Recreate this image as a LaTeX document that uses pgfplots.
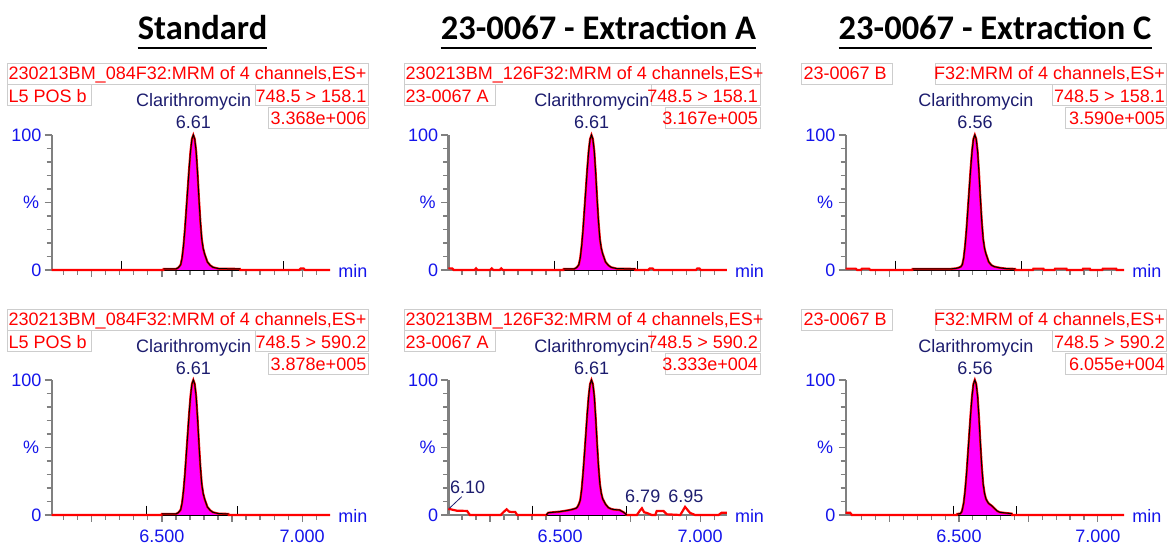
\documentclass[border=0pt]{standalone}
\usepackage{fontspec}
\setmainfont{Liberation Sans}
\newfontfamily\titlefont{Carlito}
\usepackage{pgfplots}
\usepackage{pgfplotstable}
\pgfplotsset{compat=1.18}

\definecolor{tb}{RGB}{20,20,235}
\definecolor{nv}{RGB}{28,28,110}
\definecolor{axgray}{RGB}{128,128,128}
\definecolor{boxgray}{RGB}{205,205,205}
\definecolor{pk}{RGB}{255,0,255}
\definecolor{rd}{RGB}{255,0,0}

\newcommand{\rdfont}{\fontsize{18pt}{20pt}\selectfont}
\newcommand{\tkfont}{\fontsize{18pt}{20pt}\selectfont}

% peak rows shared by the 6.61 panels
\pgfplotstableread{
x y
6.107 0
6.505 0
6.506 0.8
6.550 0.8
6.557 1.5
6.562 2.5
6.567 4
6.572 9
6.577 18
6.582 30
6.587 45
6.592 60
6.597 75
6.602 88
6.607 97
6.612 100
6.617 97
6.622 88
6.627 72
6.632 53
6.637 36
6.642 23
6.647 16
6.652 12
6.657 9
6.662 6
6.672 3.5
6.682 2
6.692 1.5
6.702 1
6.778 0.8
6.779 0
6.990 0
6.995 1.2
7.005 1.2
7.010 0
7.100 0
}\TL

\pgfplotstableread{
x y
6.101 1.2
6.115 1.2
6.120 0
6.195 0
6.200 1.2
6.205 0
6.250 0
6.256 1.2
6.262 0
6.285 0
6.290 1.2
6.296 0
6.512 0
6.513 0.8
6.550 0.8
6.557 1.5
6.562 2.5
6.567 4
6.572 9
6.577 18
6.582 30
6.587 45
6.592 60
6.597 75
6.602 88
6.607 97
6.612 100
6.617 97
6.622 88
6.627 72
6.632 53
6.637 36
6.642 23
6.647 16
6.652 12
6.657 9
6.662 6
6.672 3.5
6.682 2
6.692 1.5
6.702 1
6.767 0.8
6.768 0
6.815 0
6.820 1.2
6.830 1.2
6.835 0
6.985 0
6.990 1.2
6.997 1.2
7.002 0
7.095 0
}\TM

\pgfplotstableread{
x y
6.092 1
6.128 1
6.133 0
6.146 0
6.151 1
6.176 1
6.181 0
6.332 0
6.333 0.8
6.470 0.8
6.490 1.2
6.500 1.8
6.507 2.5
6.512 4
6.517 9
6.522 18
6.527 30
6.532 45
6.537 60
6.542 75
6.547 88
6.552 97
6.557 100
6.562 97
6.567 88
6.572 72
6.577 53
6.582 36
6.587 23
6.592 16
6.597 12
6.602 9
6.607 6
6.617 3.5
6.627 2.5
6.637 2
6.650 1.5
6.670 1
6.702 0.8
6.703 0
6.766 0
6.768 1
6.804 1
6.806 0
6.844 0
6.846 1
6.887 1
6.889 0
6.945 0
6.947 1
6.971 1
6.973 0
7.016 0
7.018 1
7.066 1
7.068 0
7.095 0
}\TR

\pgfplotstableread{
x y
6.107 0
6.499 0
6.500 0.8
6.550 0.8
6.557 1.5
6.562 2.5
6.567 4
6.572 9
6.577 18
6.582 30
6.587 45
6.592 60
6.597 75
6.602 88
6.607 97
6.612 100
6.617 97
6.622 88
6.627 72
6.632 53
6.637 36
6.642 23
6.647 16
6.652 12
6.657 9
6.662 6
6.672 3.5
6.682 2
6.692 1.5
6.702 1
6.737 0.8
6.738 0
7.100 0
}\BL

\pgfplotstableread{
x y
6.101 4.5
6.110 4.2
6.131 3.2
6.168 3.0
6.178 0
6.288 0
6.300 2.5
6.309 4.2
6.318 2.5
6.327 2.2
6.340 2.2
6.347 0
6.450 0
6.458 1.7
6.500 2.5
6.530 3.5
6.545 4.2
6.557 5
6.562 6
6.567 8
6.572 11
6.577 19
6.582 31
6.587 45
6.592 60
6.597 75
6.602 88
6.607 97
6.612 100
6.617 97
6.622 88
6.627 72
6.632 53
6.637 36
6.642 23
6.647 16
6.652 12
6.657 10
6.662 8
6.672 5.5
6.682 4.5
6.692 4
6.712 3.7
6.727 2
6.738 0
6.774 0
6.784 3
6.792 5
6.800 2
6.810 1.5
6.827 0
6.840 0
6.845 3
6.869 3
6.881 0.5
6.929 0
6.946 6
6.964 1.5
6.982 0
7.065 0
7.077 1.7
7.095 1.7
}\BM

\pgfplotstableread{
x y
6.092 1.7
6.108 1.7
6.114 0
6.493 0
6.494 0.8
6.505 1
6.510 2.5
6.512 4
6.517 9
6.522 18
6.527 30
6.532 45
6.537 60
6.542 75
6.547 88
6.552 97
6.557 100
6.562 97
6.567 88
6.572 72
6.577 53
6.582 36
6.587 23
6.592 16
6.597 12
6.602 10
6.607 8.5
6.617 7
6.627 5
6.637 3
6.647 2
6.667 1.5
6.690 1
6.691 0
7.095 0
}\BR

\pgfplotsset{
  chrom/.style={
    scale only axis, width=278.5pt, height=135pt, anchor=south west,
    ymin=0, ymax=100, clip=false,
    axis lines*=left,
    axis line style={draw=axgray, line width=2.4pt},
    ytick={0,50,100}, yticklabels={0,,100},
    minor ytick={10,20,30,40,60,70,80,90},
    xtick={6.25,6.5,6.75,7},
    minor xtick={6.15,6.2,6.3,6.35,6.4,6.45,6.55,6.6,6.65,6.7,6.8,6.85,6.9,6.95,7.05},
    tick align=outside,
    major tick length=7pt, minor tick length=5pt,
    tick style={draw=axgray, line width=1.2pt},
    tick label style={font=\tkfont, text=tb},
    yticklabel style={inner sep=1pt, xshift=-2pt},
    xticklabel style={inner sep=2pt, yshift=-6pt},
  },
  toprow/.style={xticklabels={}},
  botrow/.style={xticklabels={,6.500,,7.000}},
  % trace, then a dark outline on the integrated peak
  trace/.style={rd, line width=2.2pt},
  outline/.style={black, line width=1pt},
}

% panel decorations: min and % labels
\newcommand{\axtext}{%
  \node[anchor=base west, inner sep=0, text=tb, font=\tkfont] at (rel axis cs:1,0) [xshift=8pt, yshift=-7.7pt] {min};
  \node[anchor=east, inner sep=0, text=tb, font=\tkfont] at (rel axis cs:0,0.5) [xshift=-12.4pt] {\%};
}

\begin{document}
\begin{tikzpicture}
\path[use as bounding box] (0pt,0pt) rectangle (1167pt,545pt);

% titles
\foreach \cx/\tt in {202.5/Standard, 598.5/23-0067 - Extraction A, 995/23-0067 - Extraction C}{
  \node[anchor=base, inner sep=0, font=\titlefont\bfseries\fontsize{34.5pt}{36pt}\selectfont] (t) at (\cx pt,505pt) {\tt};
  \draw[black, line width=2pt] ([yshift=-8.5pt]t.base west) -- ([yshift=-8.5pt]t.base east);
}

% ---------- top left
\begin{axis}[chrom, toprow, at={(51.7pt,275pt)}, xmin=6.107, xmax=7.100]
\addplot[fill=pk, draw=none, restrict x to domain=6.5055:6.7785] table {\TL} \closedcycle;
\addplot[black, line width=0.8pt] coordinates {(6.357,7) (6.357,0) (6.932,0) (6.932,7)};
\addplot[trace] table {\TL};
\addplot[outline, restrict x to domain=6.5055:6.7785] table {\TL};
\axtext
\end{axis}

% ---------- top middle
\begin{axis}[chrom, toprow, at={(448.3pt,275pt)}, xmin=6.101, xmax=7.095]
\addplot[fill=pk, draw=none, restrict x to domain=6.5125:6.7675] table {\TM} \closedcycle;
\addplot[black, line width=0.8pt] coordinates {(6.478,7) (6.478,0) (6.776,0) (6.776,7)};
\addplot[trace] table {\TM};
\addplot[outline, restrict x to domain=6.5125:6.7675] table {\TM};
\axtext
\end{axis}

% ---------- top right
\begin{axis}[chrom, toprow, at={(845.7pt,275pt)}, xmin=6.092, xmax=7.095]
\addplot[fill=pk, draw=none, restrict x to domain=6.3325:6.7025] table {\TR} \closedcycle;
\addplot[black, line width=0.8pt] coordinates {(6.272,7) (6.272,0) (6.723,0) (6.723,7)};
\addplot[trace] table {\TR};
\addplot[outline, restrict x to domain=6.3325:6.7025] table {\TR};
\axtext
\end{axis}

% ---------- bottom left
\begin{axis}[chrom, botrow, at={(51.7pt,30pt)}, xmin=6.107, xmax=7.100]
\addplot[fill=pk, draw=none, restrict x to domain=6.4995:6.7375] table {\BL} \closedcycle;
\addplot[black, line width=0.8pt] coordinates {(6.446,7) (6.446,0) (6.770,0) (6.770,7)};
\addplot[trace] table {\BL};
\addplot[outline, restrict x to domain=6.4995:6.7375] table {\BL};
\axtext
\end{axis}

% ---------- bottom middle
\begin{axis}[chrom, botrow, at={(448.3pt,30pt)}, xmin=6.101, xmax=7.095]
\addplot[fill=pk, draw=none, restrict x to domain=6.449:6.7385] table {\BM} \closedcycle;
\addplot[black, line width=0.8pt] coordinates {(6.402,7) (6.402,0) (6.738,0) (6.738,7)};
\addplot[trace] table {\BM};
\addplot[outline, restrict x to domain=6.449:6.7385] table {\BM};
\addplot[nv, line width=0.8pt] coordinates {(6.105,5) (6.149,13.6)};
\node[anchor=base west, inner sep=0, text=nv, font=\rdfont] at (axis cs:6.107,16.1) {6.10};
\node[anchor=base, inner sep=0, text=nv, font=\rdfont] at (axis cs:6.795,9.4) {6.79};
\node[anchor=base, inner sep=0, text=nv, font=\rdfont] at (axis cs:6.949,9.4) {6.95};
\axtext
\end{axis}

% ---------- bottom right
\begin{axis}[chrom, botrow, at={(845.7pt,30pt)}, xmin=6.092, xmax=7.095]
\addplot[fill=pk, draw=none, restrict x to domain=6.4935:6.6905] table {\BR} \closedcycle;
\addplot[black, line width=0.8pt] coordinates {(6.479,7) (6.479,0) (6.708,0) (6.708,7)};
\addplot[trace] table {\BR};
\addplot[outline, restrict x to domain=6.4935:6.6905] table {\BR};
\axtext
\end{axis}

% ---------- header boxes, both rows
\foreach \dy/\tra/\trb/\nl/\nm in {0/158.1/3.368e+006/3.167e+005/3.590e+005, 246/590.2/3.878e+005/3.333e+004/6.055e+004}{
  \begin{scope}[yshift=-\dy pt, every node/.style={inner sep=0, font=\rdfont}]
  % left
  \draw[boxgray, line width=0.8pt] (7.3pt,460.7pt) rectangle (368.3pt,481.7pt);
  \draw[boxgray, line width=0.8pt] (7.3pt,439.5pt) rectangle (91.7pt,460.7pt);
  \draw[boxgray, line width=0.8pt] (255pt,439.5pt) rectangle (368.3pt,460.7pt);
  \draw[boxgray, line width=0.8pt] (268.3pt,416.5pt) rectangle (368.3pt,438pt);
  \node[anchor=base west, text=rd] at (8.5pt,465pt) {230213BM\_084F32:MRM of 4 channels,ES+};
  \node[anchor=base west, text=rd] at (8.5pt,442.7pt) {L5 POS b};
  \node[anchor=base east, text=rd] at (366.5pt,442.7pt) {748.5 > \tra};
  \node[anchor=base east, text=rd] at (366.5pt,420pt) {\trb};
  \node[anchor=base, text=nv] at (193.7pt,438.3pt) {Clarithromycin};
  \node[anchor=base, text=nv] at (193.3pt,416.7pt) {6.61};
  % middle
  \draw[boxgray, line width=0.8pt] (404pt,460.7pt) rectangle (760pt,481.7pt);
  \draw[boxgray, line width=0.8pt] (404pt,439.5pt) rectangle (495pt,460.7pt);
  \draw[boxgray, line width=0.8pt] (651.7pt,439.5pt) rectangle (760pt,460.7pt);
  \draw[boxgray, line width=0.8pt] (665pt,416.5pt) rectangle (760pt,438pt);
  \node[anchor=base west, text=rd] at (405.5pt,465pt) {230213BM\_126F32:MRM of 4 channels,ES+};
  \node[anchor=base west, text=rd] at (405.5pt,442.7pt) {23-0067 A};
  \node[anchor=base east, text=rd] at (758.2pt,442.7pt) {748.5 > \tra};
  \node[anchor=base east, text=rd] at (758.2pt,420pt) {\nl};
  \node[anchor=base, text=nv] at (592pt,438.3pt) {Clarithromycin};
  \node[anchor=base, text=nv] at (591.7pt,416.7pt) {6.61};
  % right
  \draw[boxgray, line width=0.8pt] (801.7pt,460.7pt) rectangle (892.7pt,481.7pt);
  \draw[boxgray, line width=0.8pt] (935pt,460.7pt) rectangle (1166.5pt,481.7pt);
  \draw[boxgray, line width=0.8pt] (1052.7pt,439.5pt) rectangle (1166.5pt,460.7pt);
  \draw[boxgray, line width=0.8pt] (1065pt,416.5pt) rectangle (1166.5pt,438pt);
  \node[anchor=base west, text=rd] at (803.3pt,465pt) {23-0067 B};
  \node[anchor=base east, text=rd] at (1165pt,465pt) {F32:MRM of 4 channels,ES+};
  \node[anchor=base east, text=rd] at (1165pt,442.7pt) {748.5 > \tra};
  \node[anchor=base east, text=rd] at (1165pt,420pt) {\nm};
  \node[anchor=base, text=nv] at (975.8pt,438.3pt) {Clarithromycin};
  \node[anchor=base, text=nv] at (975pt,416.7pt) {6.56};
  \end{scope}
}
\end{tikzpicture}
\end{document}
